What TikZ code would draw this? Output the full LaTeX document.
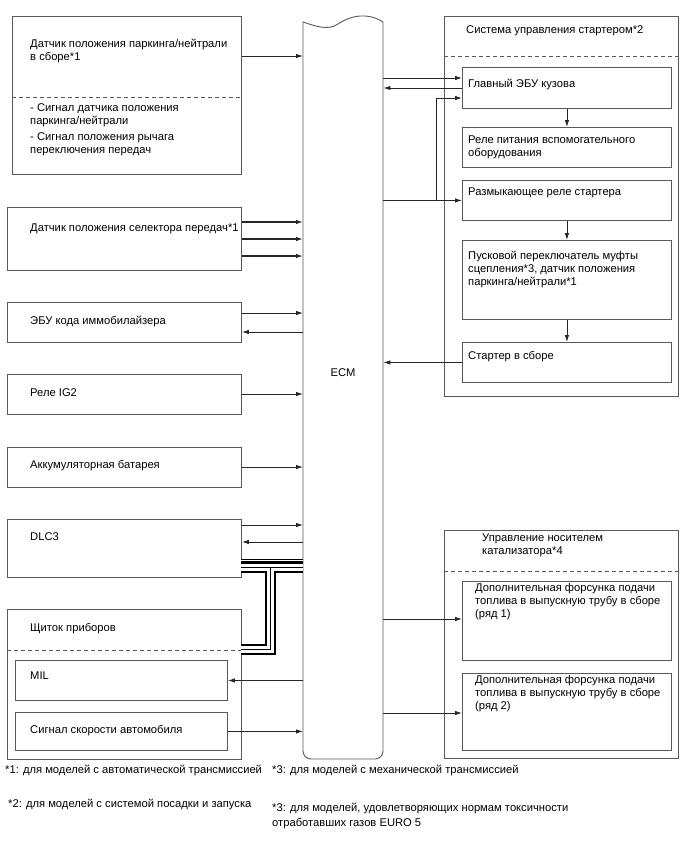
\documentclass[tikz,border=0pt]{standalone}
\usepackage{fontspec}
\setmainfont{Liberation Sans}
\usetikzlibrary{arrows.meta}
\begin{document}
\begin{tikzpicture}[x=1pt,y=-1pt,
  box/.style={draw=black!65, line width=0.9pt, fill=white, inner sep=0pt, anchor=north west},
  lbl/.style={anchor=base west, inner sep=0pt, align=left, font=\fontsize{11.2}{13}\selectfont},
  sig/.style={draw=black!85, line width=0.9pt, -{Latex[length=7pt,width=4.5pt]}},
  sigb/.style={sig, line width=1.3pt},
  dsh/.style={draw=black!65, line width=0.9pt, dash pattern=on 4pt off 3pt},
  cblk/.style={draw=black, line width=#1},
  cwht/.style={draw=white, line width=#1},
]
\fill[white] (0,0) rectangle (688,852);
\useasboundingbox (0,0) rectangle (688,852);

% ECM
\node[inner sep=0pt, minimum width=80pt, minimum height=737pt, anchor=north west] (ecm) at (303,22) {};
\draw[draw=black!65, line width=0.9pt, fill=white]
  (303,22) .. controls (315,26) and (328,31) .. (338,24)
  .. controls (348,17) and (366,11) .. (383,22)
  [rounded corners=8pt] -- (383,759) -- (303,759) -- (303,60) [sharp corners] -- cycle;
\node[lbl, anchor=center] (ecmlbl) at (343,373) {ECM};

% left boxes
\node[box, minimum width=229pt, minimum height=158pt] (b1) at (12,16) {};
\draw[dsh] ([yshift=-81pt]b1.north west) -- ([yshift=-81pt]b1.north east);
\node[box, minimum width=234pt, minimum height=63pt] (b2) at (7,207) {};
\node[box, minimum width=234pt, minimum height=40pt] (b3) at (7,302) {};
\node[box, minimum width=234pt, minimum height=40pt] (b4) at (7,374) {};
\node[box, minimum width=234pt, minimum height=40pt] (b5) at (7,447) {};
\node[box, minimum width=234pt, minimum height=58pt] (b6) at (7,519) {};
\node[box, minimum width=234pt, minimum height=150pt] (b7) at (7,609) {};
\draw[dsh] ([yshift=-41pt]b7.north west) -- ([yshift=-41pt]b7.north east);
\node[box, minimum width=212pt, minimum height=40pt] (mil) at (15,660) {};
\node[box, minimum width=212pt, minimum height=38pt] (spd) at (15,712) {};

% right: starter system
\node[box, minimum width=234pt, minimum height=380pt] (st) at (444,16) {};
\draw[dsh] ([yshift=-40pt]st.north west) -- ([yshift=-40pt]st.north east);
\node[box, minimum width=209pt, minimum height=41pt] (s1) at (462,67) {};
\node[box, minimum width=209pt, minimum height=40pt] (s2) at (462,127) {};
\node[box, minimum width=209pt, minimum height=40pt] (s3) at (462,180) {};
\node[box, minimum width=209pt, minimum height=79pt] (s4) at (462,240) {};
\node[box, minimum width=209pt, minimum height=40pt] (s5) at (462,342) {};

% right: catalyst
\node[box, minimum width=234pt, minimum height=228pt] (ct) at (444,530) {};
\draw[dsh] ([yshift=-41pt]ct.north west) -- ([yshift=-41pt]ct.north east);
\node[box, minimum width=209pt, minimum height=79pt] (c1) at (462,581) {};
\node[box, minimum width=209pt, minimum height=77pt] (c2) at (462,673) {};

% texts (anchor = baseline of the last line)
\node[lbl] (t1) at (30,60) {Датчик положения паркинга/нейтрали\\в сборе*1};
\node[lbl] (t1a) at (30,124) {- Сигнал датчика положения\\паркинга/нейтрали};
\node[lbl] (t1b) at (30,153.5) {- Сигнал положения рычага\\переключения передач};
\node[lbl] (t2) at (30,231) {Датчик положения селектора передач*1};
\node[lbl] (t3) at (30,324) {ЭБУ кода иммобилайзера};
\node[lbl] (t4) at (30,396) {Реле IG2};
\node[lbl] (t5) at (30,468) {Аккумуляторная батарея};
\node[lbl] (t6) at (30,540) {DLC3};
\node[lbl] (t7) at (30,631) {Щиток приборов};
\node[lbl] (t8) at (30,679) {MIL};
\node[lbl] (t9) at (30,733) {Сигнал скорости автомобиля};

\node[lbl] (r0) at (466,33) {Система управления стартером*2};
\node[lbl] (r1) at (468,87) {Главный ЭБУ кузова};
\node[lbl] (r2) at (468,156) {Реле питания вспомогательного\\оборудования};
\node[lbl] (r3) at (468,195) {Размыкающее реле стартера};
\node[lbl] (r4) at (468,285) {Пусковой переключатель муфты\\сцепления*3, датчик положения\\паркинга/нейтрали*1};
\node[lbl] (r5) at (468,359) {Стартер в сборе};

\node[lbl] (c0) at (482,554) {Управление носителем\\катализатора*4};
\node[lbl] (c1t) at (475,617) {Дополнительная форсунка подачи\\топлива в выпускную трубу в сборе\\(ряд 1)};
\node[lbl] (c2t) at (475,709) {Дополнительная форсунка подачи\\топлива в выпускную трубу в сборе\\(ряд 2)};

\node[lbl] (f1) at (5,773) {*1: для моделей с автоматической трансмиссией};
\node[lbl] (f2) at (272,773) {*3: для моделей с механической трансмиссией};
\node[lbl] (f3) at (8,807) {*2: для моделей с системой посадки и запуска};
\node[lbl, font=\fontsize{11.2}{15}\selectfont] (f4) at (272,826) {*3: для моделей, удовлетворяющих нормам токсичности\\отработавших газов EURO 5};

% left connectors
\draw[sig] ([yshift=-40pt]b1.north east) coordinate (p1) -- (p1 -| ecm.west);
\draw[sigb] ([yshift=-15pt]b2.north east) coordinate (p2) -- (p2 -| ecm.west);
\draw[sigb] ([yshift=-32pt]b2.north east) coordinate (p3) -- (p3 -| ecm.west);
\draw[sigb] ([yshift=-49pt]b2.north east) coordinate (p4) -- (p4 -| ecm.west);
\draw[sig] ([yshift=-11pt]b3.north east) coordinate (p5) -- (p5 -| ecm.west);
\path ([yshift=-30pt]b3.north east) coordinate (p6);
\draw[sig] (p6 -| ecm.west) -- (p6);
\draw[sig] ([yshift=-20pt]b4.north east) coordinate (p7) -- (p7 -| ecm.west);
\draw[sig] ([yshift=-20pt]b5.north east) coordinate (p8) -- (p8 -| ecm.west);
\draw[sig] ([yshift=-6pt]b6.north east) coordinate (p9) -- (p9 -| ecm.west);
\path ([yshift=-23pt]b6.north east) coordinate (p10);
\draw[sig] (p10 -| ecm.west) -- (p10);
\draw[sig] (mil.east -| ecm.west) -- (mil.east);
\draw[sig] (spd.east) -- (spd.east -| ecm.west);

% bus cables DLC3 / ECM / combination meter
\coordinate (ca) at (241,560.5);
\coordinate (cb) at (303,560.5);
\coordinate (cc) at (303,567);
\coordinate (cd) at (241,567);
\coordinate (ce) at (270,567);
\coordinate (cf) at (270,649.5);
\coordinate (cg) at (241,649.5);
\draw[cblk=3.4pt] (ca) -- (cb);
\draw[cblk=11pt] (cd) -- (cc) (ce) -- (cf) -- (cg);
\draw[cwht=1pt] (ca) -- (cb);
\draw[cwht=7pt] (cd) -- (cc) (ce) -- (cf) -- (cg);
\draw[cblk=0.8pt] (cd) -- (cc) (ce) -- (cf) -- (cg);

% right connectors
\path ([yshift=-11pt]s1.north west) coordinate (q1);
\draw[sig] (q1 -| ecm.east) -- (q1);
\draw[sig] ([yshift=-21pt]s1.north west) coordinate (q2) -- (q2 -| ecm.east);
\draw[sig] (s3.west -| ecm.east) -- (s3.west);
\coordinate (j1) at (436,200);
\draw[sig] (j1) |- ([yshift=-31pt]s1.north west);
\draw[sig] (s5.west) -- (s5.west -| ecm.east);
\path ([yshift=-38pt]c1.north west) coordinate (q3);
\draw[sig] (q3 -| ecm.east) -- (q3);
\path ([yshift=-40pt]c2.north west) coordinate (q4);
\draw[sig] (q4 -| ecm.east) -- (q4);
\draw[sig] (s1.south) -- (s2.north);
\draw[sig] (s3.south) -- (s4.north);
\draw[sig] (s4.south) -- (s5.north);
\end{tikzpicture}
\end{document}
